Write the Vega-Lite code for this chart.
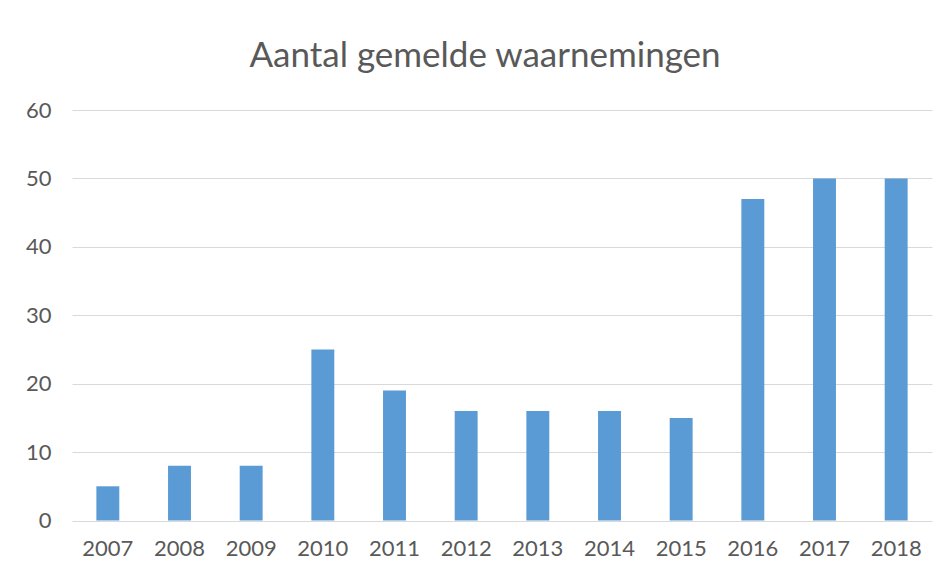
{
  "$schema": "https://vega.github.io/schema/vega-lite/v6.json",
  "width": 860,
  "height": 410.5,
  "autosize": {"type": "none"},
  "padding": {"left": 72, "top": 110, "right": 14, "bottom": 53},
  "background": "white",
  "title": {
    "text": "Aantal gemelde waarnemingen",
    "font": "Lato",
    "fontSize": 35,
    "fontWeight": "normal",
    "color": "#595959",
    "anchor": "middle",
    "frame": "group",
    "baseline": "bottom",
    "offset": -10,
    "dx": -17
  },
  "data": {
    "values": [
      {"jaar": "2007", "aantal": 5},
      {"jaar": "2008", "aantal": 8},
      {"jaar": "2009", "aantal": 8},
      {"jaar": "2010", "aantal": 25},
      {"jaar": "2011", "aantal": 19},
      {"jaar": "2012", "aantal": 16},
      {"jaar": "2013", "aantal": 16},
      {"jaar": "2014", "aantal": 16},
      {"jaar": "2015", "aantal": 15},
      {"jaar": "2016", "aantal": 47},
      {"jaar": "2017", "aantal": 50},
      {"jaar": "2018", "aantal": 50}
    ]
  },
  "mark": {"type": "bar", "color": "#5B9BD5"},
  "encoding": {
    "x": {
      "field": "jaar",
      "type": "ordinal",
      "scale": {"paddingInner": 0.68, "paddingOuter": 0.34},
      "axis": {
        "title": null,
        "labelAngle": 0,
        "labelFont": "Lato",
        "labelFontSize": 22,
        "labelColor": "#595959",
        "labelPadding": 18,
        "ticks": false,
        "domain": false
      }
    },
    "y": {
      "field": "aantal",
      "type": "quantitative",
      "scale": {"domain": [0, 60]},
      "axis": {
        "title": null,
        "values": [0, 10, 20, 30, 40, 50, 60],
        "labelFont": "Lato",
        "labelFontSize": 22,
        "labelColor": "#595959",
        "labelPadding": 21,
        "ticks": false,
        "domain": false,
        "gridColor": "#D9D9D9",
        "gridWidth": 1.2
      }
    }
  },
  "config": {
    "view": {"stroke": null}
  }
}
